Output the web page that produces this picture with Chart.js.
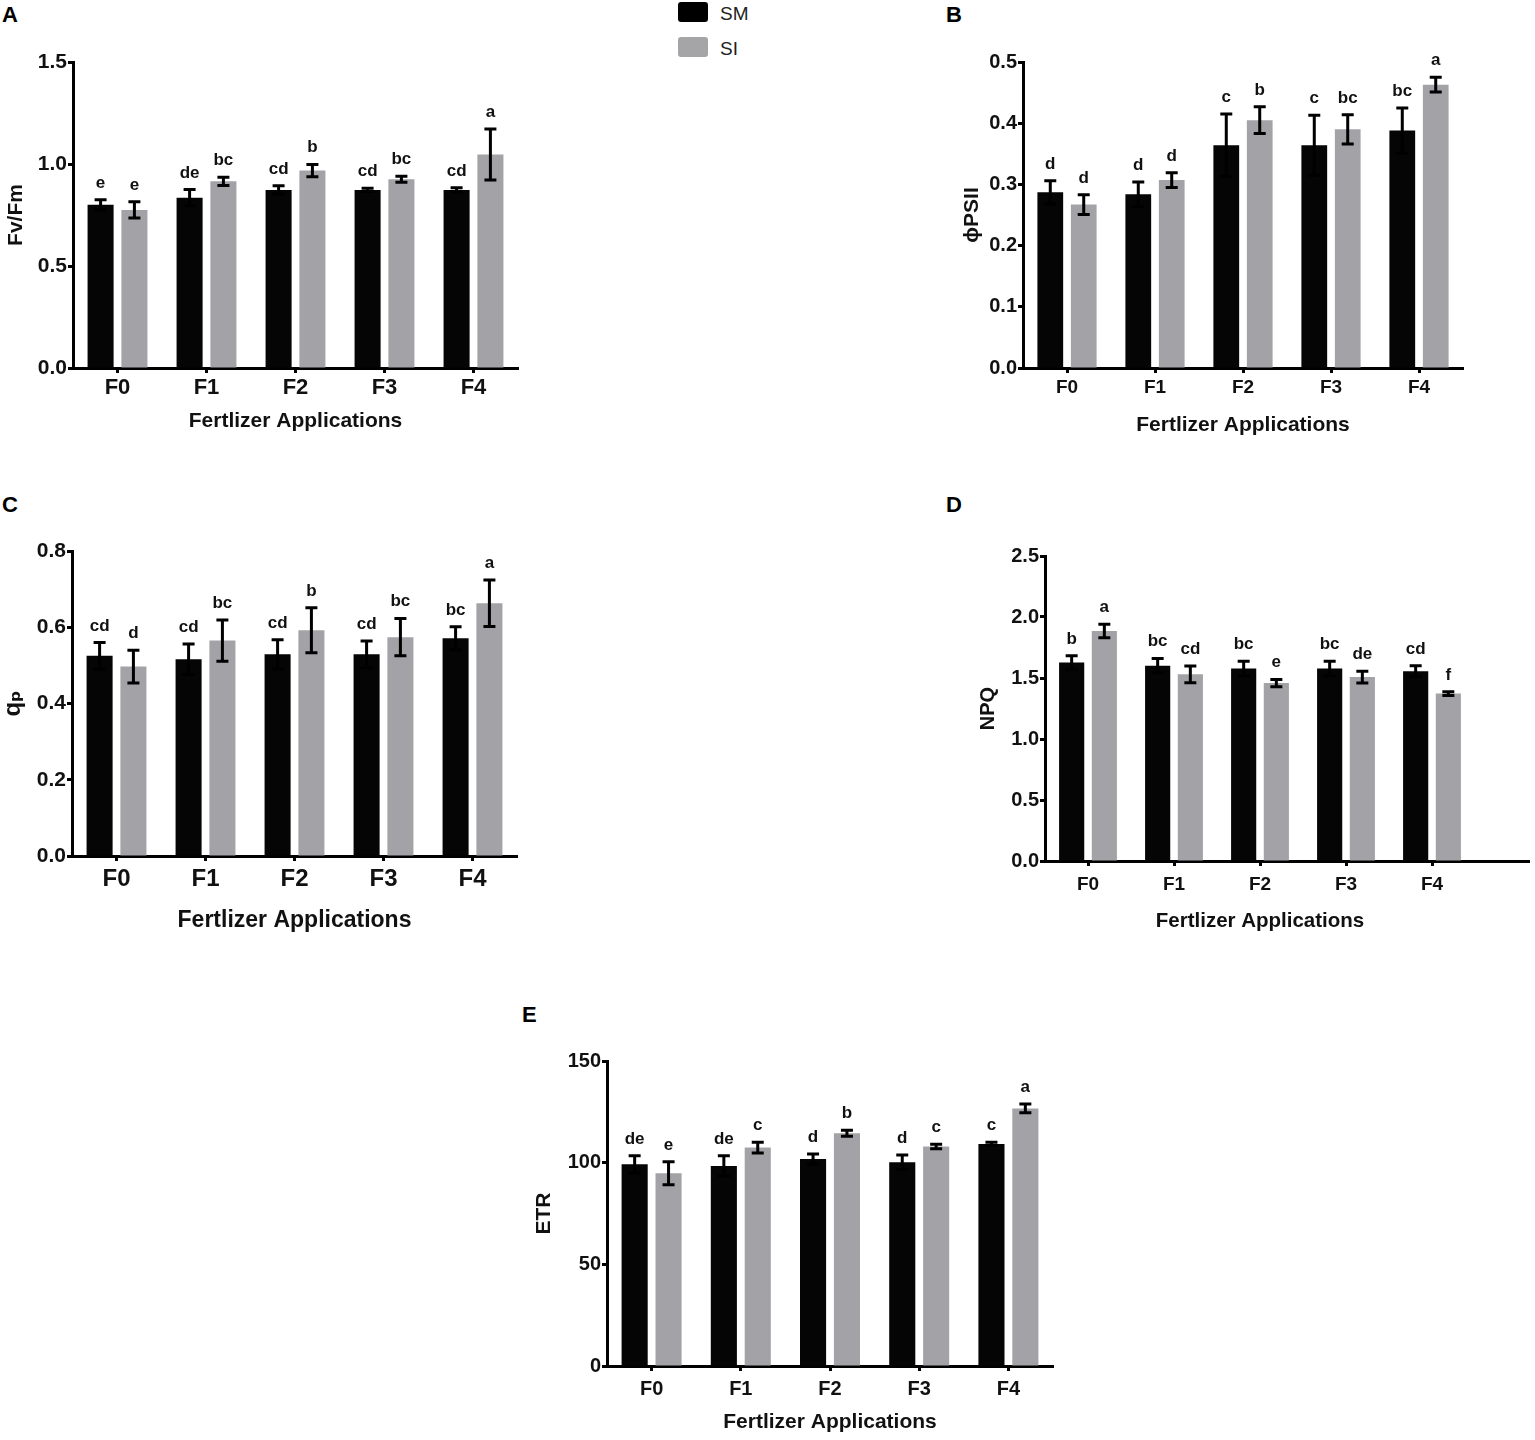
<!DOCTYPE html>
<html>
<head>
<meta charset="utf-8">
<script src="https://cdn.jsdelivr.net/npm/chart.js@4.4.0/dist/chart.umd.min.js"></script>
<style>
  body { margin: 0; background: #fff; }
  #page { position: relative; width: 1535px; height: 1440px; overflow: hidden;
          font-family: "Liberation Sans", Arial, sans-serif; }
  canvas { position: absolute; }
  .tag { position: absolute; font-weight: bold; font-size: 22px; line-height: 22px; color: #000; }
  .key { position: absolute; width: 30px; height: 20px; border-radius: 3px; }
  .keytext { position: absolute; font-size: 19px; line-height: 19px; color: #222; }
</style>
</head>
<body>
<div id="page">
  <div class="tag" style="left:2px;top:4px">A</div>
  <div class="tag" style="left:946px;top:4px">B</div>
  <div class="tag" style="left:2px;top:494px">C</div>
  <div class="tag" style="left:946px;top:494px">D</div>
  <div class="tag" style="left:522px;top:1004px">E</div>

  <div class="key" style="left:678px;top:2px;background:#000"></div>
  <div class="keytext" style="left:720px;top:4px">SM</div>
  <div class="key" style="left:678px;top:37px;background:#a5a5a8"></div>
  <div class="keytext" style="left:720px;top:39px">SI</div>

  <canvas id="chartA"></canvas>
  <canvas id="chartB"></canvas>
  <canvas id="chartC"></canvas>
  <canvas id="chartD"></canvas>
  <canvas id="chartE"></canvas>
</div>
<script>
const categories = ["F0", "F1", "F2", "F3", "F4"];

// A: Fv/Fm
const fvfmSM = [0.80, 0.835, 0.873, 0.873, 0.873];
const fvfmSMErr = [0.025, 0.04, 0.02, 0.008, 0.01];
const fvfmSI = [0.775, 0.915, 0.968, 0.925, 1.047];
const fvfmSIErr = [0.04, 0.02, 0.03, 0.015, 0.125];
const fvfmSMLetters = ["e", "de", "cd", "cd", "cd"];
const fvfmSILetters = ["e", "bc", "b", "bc", "a"];

// B: phi PSII
const psiiSM = [0.287, 0.284, 0.364, 0.364, 0.388];
const psiiSMErr = [0.019, 0.02, 0.051, 0.049, 0.037];
const psiiSI = [0.267, 0.307, 0.405, 0.39, 0.463];
const psiiSIErr = [0.016, 0.012, 0.022, 0.024, 0.012];
const psiiSMLetters = ["d", "d", "c", "c", "bc"];
const psiiSILetters = ["d", "d", "b", "bc", "a"];

// C: qp
const qpSM = [0.525, 0.516, 0.529, 0.529, 0.571];
const qpSMErr = [0.035, 0.04, 0.038, 0.035, 0.03];
const qpSI = [0.497, 0.565, 0.592, 0.574, 0.663];
const qpSIErr = [0.043, 0.054, 0.059, 0.049, 0.061];
const qpSMLetters = ["cd", "cd", "cd", "cd", "bc"];
const qpSILetters = ["d", "bc", "b", "bc", "a"];

// D: NPQ
const npqSM = [1.627, 1.60, 1.578, 1.578, 1.556];
const npqSMErr = [0.055, 0.06, 0.06, 0.06, 0.044];
const npqSI = [1.885, 1.53, 1.458, 1.508, 1.372];
const npqSIErr = [0.055, 0.068, 0.03, 0.048, 0.015];
const npqSMLetters = ["b", "bc", "bc", "bc", "cd"];
const npqSILetters = ["a", "cd", "e", "de", "f"];

// E: ETR
const etrSM = [99.2, 98.4, 101.8, 100.2, 109.2];
const etrSMErr = [4.2, 5, 2.5, 3.6, 0.8];
const etrSI = [94.8, 107.4, 114.5, 107.9, 126.7];
const etrSIErr = [5.6, 2.6, 1.5, 1.1, 2.2];
const etrSMLetters = ["de", "de", "d", "d", "c"];
const etrSILetters = ["e", "c", "b", "c", "a"];

const FONT = "'Liberation Sans', 'DejaVu Sans', Arial, sans-serif";
const SM_COLOR = "#050505";
const SI_COLOR = "#a3a3a7";

Chart.defaults.color = "#000";
Chart.defaults.font.family = FONT;

// error bars, group letters and the longer x axis of panel D
const errorBarPlugin = {
  id: "errorBars",
  afterDatasetsDraw(chart, args, opts) {
    const ctx = chart.ctx;
    const yScale = chart.scales.y;
    chart.data.datasets.forEach((ds, i) => {
      const meta = chart.getDatasetMeta(i);
      meta.data.forEach((bar, j) => {
        const v = ds.data[j];
        const e = ds.errors[j];
        const top = yScale.getPixelForValue(v + e);
        const bottom = yScale.getPixelForValue(v - e);
        ctx.save();
        ctx.strokeStyle = "#000";
        ctx.lineWidth = 3;
        ctx.beginPath();
        ctx.moveTo(bar.x, top);
        ctx.lineTo(bar.x, bottom);
        ctx.moveTo(bar.x - 6, top);
        ctx.lineTo(bar.x + 6, top);
        ctx.moveTo(bar.x - 6, bottom);
        ctx.lineTo(bar.x + 6, bottom);
        ctx.stroke();
        ctx.fillStyle = "#111";
        ctx.font = "bold 17px " + FONT;
        ctx.textAlign = "center";
        ctx.textBaseline = "alphabetic";
        ctx.fillText(ds.letters[j], bar.x, top - 12);
        ctx.restore();
      });
    });
    if (opts.extendX) {
      const area = chart.chartArea;
      const y = Math.round(area.bottom - 1.5) + 1.5;
      ctx.save();
      ctx.strokeStyle = "#000";
      ctx.lineWidth = 3;
      ctx.beginPath();
      ctx.moveTo(area.right - 3, y);
      ctx.lineTo(area.right + opts.extendX, y);
      ctx.stroke();
      ctx.restore();
    }
  },
};

function makePanel(p) {
  const yLine = p.yTitleSize * 1.2;
  const xLine = p.xTitleSize * 1.2;
  const [plotLeft, plotTop, plotRight, plotBottom] = p.plot;
  const left = Math.round(p.yTitleX - yLine / 2);
  const top = plotTop - 45;
  const bottom = Math.round(p.xTitleY + xLine / 2);
  const right = plotRight + 10 + (p.extendX || 0);
  const yW = plotLeft - left;
  const xH = bottom - plotBottom;
  const xPad = p.xLabelY - plotBottom - (p.xTickSize * 1.2) / 2 - 5;

  const canvas = document.getElementById(p.id);
  canvas.width = right - left;
  canvas.height = bottom - top;
  canvas.style.left = left + "px";
  canvas.style.top = top + "px";

  new Chart(canvas, {
    type: "bar",
    data: {
      labels: categories,
      datasets: [
        {
          label: "SM",
          data: p.sm,
          errors: p.smErr,
          letters: p.smLetters,
          backgroundColor: SM_COLOR,
          categoryPercentage: 0.76,
          barPercentage: 0.77,
        },
        {
          label: "SI",
          data: p.si,
          errors: p.siErr,
          letters: p.siLetters,
          backgroundColor: SI_COLOR,
          categoryPercentage: 0.76,
          barPercentage: 0.77,
        },
      ],
    },
    options: {
      responsive: false,
      animation: false,
      layout: { padding: { left: 0, top: 45, right: right - plotRight, bottom: 0 } },
      plugins: {
        legend: { display: false },
        tooltip: { enabled: false },
        errorBars: { extendX: p.extendX || 0 },
      },
      scales: {
        x: {
          grid: {
            display: true,
            drawOnChartArea: false,
            offset: false,
            tickLength: 5,
            tickWidth: 3,
            tickColor: "#000",
          },
          border: { color: "#000", width: 3 },
          ticks: {
            color: "#111",
            padding: xPad,
            font: { size: p.xTickSize, weight: "bold" },
          },
          title: {
            display: true,
            text: "Fertlizer Applications",
            color: "#111",
            padding: 0,
            font: { size: p.xTitleSize, weight: "bold" },
          },
          afterFit: (s) => {
            s.height = xH;
          },
        },
        y: {
          min: 0,
          max: p.yMax,
          grid: {
            display: true,
            drawOnChartArea: false,
            tickLength: 5,
            tickWidth: 3,
            tickColor: "#000",
          },
          border: { color: "#000", width: 3 },
          ticks: {
            stepSize: p.yStep,
            color: "#111",
            padding: 1,
            font: { size: p.yTickSize, weight: "bold" },
            callback: (v) => Number(v).toFixed(p.decimals),
          },
          title: {
            display: true,
            text: p.yTitle,
            color: "#111",
            padding: 0,
            font: { size: p.yTitleSize, weight: "bold" },
          },
          afterFit: (s) => {
            s.width = yW;
          },
        },
      },
    },
    plugins: [errorBarPlugin],
  });
}

makePanel({
  id: "chartA", plot: [73, 62, 518, 368],
  yTitle: "Fv/Fm", yTitleX: 17, yTitleSize: 21, yTickSize: 21,
  xTitleY: 421, xTitleSize: 21, xLabelY: 387.5, xTickSize: 22,
  yMax: 1.5, yStep: 0.5, decimals: 1,
  sm: fvfmSM, smErr: fvfmSMErr, smLetters: fvfmSMLetters,
  si: fvfmSI, siErr: fvfmSIErr, siLetters: fvfmSILetters,
});

makePanel({
  id: "chartB", plot: [1023, 62, 1463, 368],
  yTitle: "\u03D5PSII", yTitleX: 973, yTitleSize: 21, yTickSize: 20,
  xTitleY: 425, xTitleSize: 21, xLabelY: 387.5, xTickSize: 19,
  yMax: 0.5, yStep: 0.1, decimals: 1,
  sm: psiiSM, smErr: psiiSMErr, smLetters: psiiSMLetters,
  si: psiiSI, siErr: psiiSIErr, siLetters: psiiSILetters,
});

makePanel({
  id: "chartC", plot: [72, 551, 517, 856],
  yTitle: "q\u209A", yTitleX: 13, yTitleSize: 24, yTickSize: 21,
  xTitleY: 920, xTitleSize: 23, xLabelY: 879, xTickSize: 24,
  yMax: 0.8, yStep: 0.2, decimals: 1,
  sm: qpSM, smErr: qpSMErr, smLetters: qpSMLetters,
  si: qpSI, siErr: qpSIErr, siLetters: qpSILetters,
});

makePanel({
  id: "chartD", plot: [1045, 556, 1475, 861],
  yTitle: "NPQ", yTitleX: 988, yTitleSize: 20, yTickSize: 20,
  xTitleY: 922, xTitleSize: 20.5, xLabelY: 885, xTickSize: 19,
  yMax: 2.5, yStep: 0.5, decimals: 1, extendX: 55,
  sm: npqSM, smErr: npqSMErr, smLetters: npqSMLetters,
  si: npqSI, siErr: npqSIErr, siLetters: npqSILetters,
});

makePanel({
  id: "chartE", plot: [607, 1061, 1053, 1366],
  yTitle: "ETR", yTitleX: 545, yTitleSize: 21, yTickSize: 20,
  xTitleY: 1422, xTitleSize: 21, xLabelY: 1389, xTickSize: 20,
  yMax: 150, yStep: 50, decimals: 0,
  sm: etrSM, smErr: etrSMErr, smLetters: etrSMLetters,
  si: etrSI, siErr: etrSIErr, siLetters: etrSILetters,
});
</script>
</body>
</html>
